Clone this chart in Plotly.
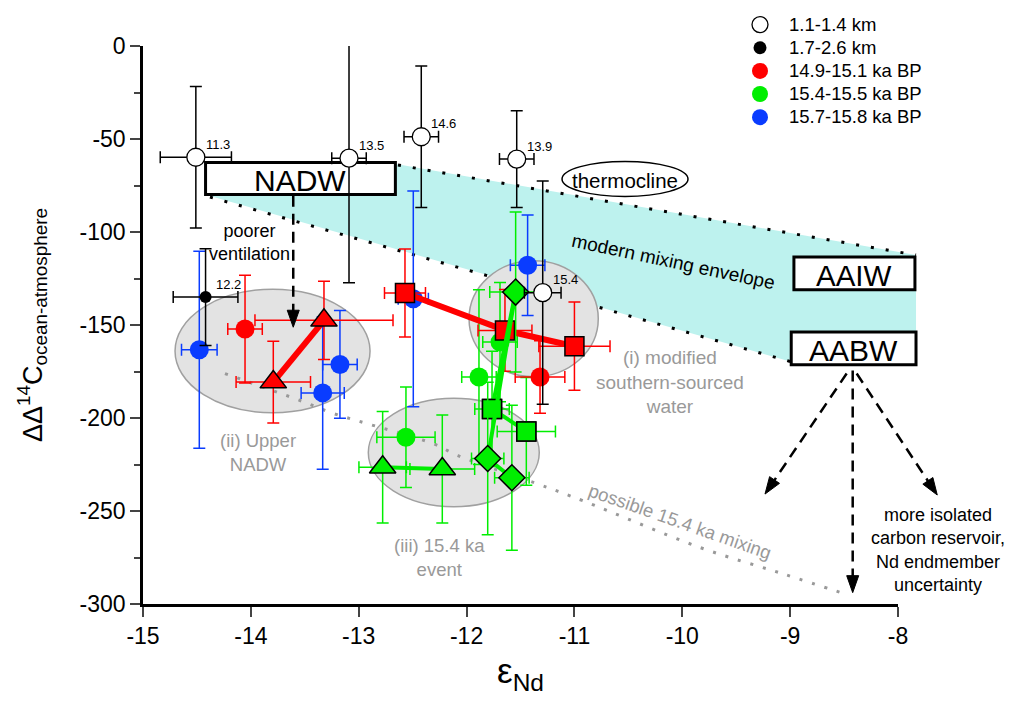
import math
import plotly.graph_objects as go

# ---------------- data ----------------
# open circles: 1.1-1.4 km (labels = ages)
open_x = [-14.51, -13.09, -12.42, -11.535, -11.294]
open_y = [-59.8, -60.3, -48.8, -60.8, -132.6]
open_xerr = [0.33, 0.16, 0.16, 0.16, 0.17]
open_yerr = [38, 67, 38, 26, 60]
open_labels = ["11.3", "13.5", "14.6", "13.9", "15.4"]

# filled black: 1.7-2.6 km
deep_x = [-14.42]
deep_y = [-135]
deep_xerr = [0.30]
deep_yerr = [26]
deep_labels = ["12.2"]

# 14.9-15.1 ka BP (red)
red_circ_x = [-14.054, -11.319]
red_circ_y = [-152.2, -178.0]
red_circ_xerr = [0.16, 0.23]
red_circ_yerr = [29, 19.5]
red_sq_x = [-12.571, -11.644, -11.0]
red_sq_y = [-132.8, -152.9, -161.4]
red_sq_xerr = [0.19, 0.25, 0.33]
red_sq_yerr = [23.7, 22, 23.7]
red_tri_x = [-13.792, -13.322]
red_tri_y = [-180.7, -147.5]
red_tri_xerr = [0.345, 0.64]
red_tri_yerr = [22, 21]

# 15.4-15.5 ka BP (green)
grn_circ_x = [-12.562, -11.885, -11.69]
grn_circ_y = [-210.4, -178.0, -159.2]
grn_circ_xerr = [0.27, 0.16, 0.16]
grn_circ_yerr = [27, 47, 32]
grn_sq_x = [-11.764, -11.446]
grn_sq_y = [-195.1, -207.2]
grn_sq_xerr = [0.16, 0.27]
grn_sq_yerr = [31, 29]
grn_tri_x = [-12.778, -12.225]
grn_tri_y = [-226.5, -227.4]
grn_tri_xerr = [0.22, 0.30]
grn_tri_yerr = [30, 29]
grn_dia_x = [-11.545, -11.804, -11.58]
grn_dia_y = [-132.3, -221.8, -232.1]
grn_dia_xerr = [0.24, 0.15, 0.16]
grn_dia_yerr = [43, 41, 39]
# path of the square core line (starts at the top diamond position)
grn_sqline_x = [-11.545, -11.764, -11.446]
grn_sqline_y = [-132.3, -195.1, -207.2]

# 15.7-15.8 ka BP (blue)
blu_x = [-14.478, -13.174, -13.334, -12.494, -11.434]
blu_y = [-163.3, -171.2, -186.5, -135.9, -117.9]
blu_xerr = [0.165, 0.16, 0.2, 0.14, 0.16]
blu_yerr = [53, 29, 41, 58, 27]

# possible 15.4 ka mixing line
mix_x = [-14.24, -13.544, -13.238, -12.923, -12.311, -12.08, -11.347, -10.921, -9.836, -9.066, -8.464]
mix_y = [-176.1, -190.6, -197.5, -203.0, -213.8, -220.2, -235.3, -244.5, -269.6, -283.8, -295.1]

# modern mixing envelope (NADW -> AAIW / AABW)
env_poly_x = [-14.416, -12.654, -7.833, -7.833, -8.983, -14.379]
env_poly_y = [-62.9, -63.4, -112.4, -169.9, -169.9, -80.6]
env_top_x = [-12.636, -7.833]
env_top_y = [-64.0, -112.4]
env_bot_x = [-14.379, -8.983]
env_bot_y = [-81.2, -169.9]

# axes
XR = [-15, -8]
YR = [-300, 0]
x_tickvals = [-15, -14, -13, -12, -11, -10, -9, -8]
x_ticktext = ["-15", "-14", "-13", "-12", "-11", "-10", "-9", "-8"]
y_tickvals = [0, -50, -100, -150, -200, -250, -300]
y_ticktext = ["0", "-50", "-100", "-150", "-200", "-250", "-300"]
y_minorvals = [-25, -75, -125, -175, -225, -275]

RED = "#ff0000"
GRN = "#00ee00"
BLU = "#0a3cff"
GRAY = "#999999"
FONT = "Arial, Liberation Sans, sans-serif"

# plot area in page pixels (page body has an 8px margin)
OFF = 8
L, T, W, H = 143, 46, 755, 558
FW, FH = 1023, 706


def xp(x):
    return (x - XR[0]) / (XR[1] - XR[0])


def yp(y):
    return (y - YR[0]) / (YR[1] - YR[0])


def topix(x, y):
    return L + xp(x) * W, T + (1 - yp(y)) * H


def frompix(px, py):
    return (px - L) / W, 1 - (py - T) / H


fig = go.Figure()


def err(arr, color, w=6, th=1.5):
    return dict(type="data", array=arr, symmetric=True, color=color, thickness=th, width=w)


# mixing curve
fig.add_trace(go.Scatter(x=mix_x, y=mix_y, mode="lines", line=dict(color=GRAY, width=3, dash="3px,10px", shape="spline"),
                         showlegend=False, hoverinfo="skip"))

# blue
fig.add_trace(go.Scatter(x=blu_x, y=blu_y, mode="markers", showlegend=False,
                         marker=dict(symbol="circle", size=19, color=BLU),
                         error_x=err(blu_xerr, BLU), error_y=err(blu_yerr, BLU)))

# green circles, squares, triangles
fig.add_trace(go.Scatter(x=grn_circ_x, y=grn_circ_y, mode="markers", showlegend=False,
                         marker=dict(symbol="circle", size=19, color=GRN),
                         error_x=err(grn_circ_xerr, GRN), error_y=err(grn_circ_yerr, GRN)))
fig.add_trace(go.Scatter(x=grn_sq_x, y=grn_sq_y, mode="markers", showlegend=False,
                         marker=dict(symbol="square", size=19, color=GRN, line=dict(color="black", width=1.5)),
                         error_x=err(grn_sq_xerr, GRN), error_y=err(grn_sq_yerr, GRN)))
fig.add_trace(go.Scatter(x=grn_tri_x, y=grn_tri_y, mode="lines+markers", showlegend=False,
                         line=dict(color=GRN, width=4),
                         marker=dict(symbol="triangle-up", size=23, color=GRN, line=dict(color="black", width=1.5)),
                         error_x=err(grn_tri_xerr, GRN), error_y=err(grn_tri_yerr, GRN)))

# red
fig.add_trace(go.Scatter(x=red_circ_x, y=red_circ_y, mode="markers", showlegend=False,
                         marker=dict(symbol="circle", size=19, color=RED),
                         error_x=err(red_circ_xerr, RED), error_y=err(red_circ_yerr, RED)))
fig.add_trace(go.Scatter(x=red_sq_x, y=red_sq_y, mode="lines+markers", showlegend=False,
                         line=dict(color=RED, width=6),
                         marker=dict(symbol="square", size=19, color=RED, line=dict(color="black", width=1.5)),
                         error_x=err(red_sq_xerr, RED), error_y=err(red_sq_yerr, RED)))
fig.add_trace(go.Scatter(x=red_tri_x, y=red_tri_y, mode="lines+markers", showlegend=False,
                         line=dict(color=RED, width=6),
                         marker=dict(symbol="triangle-up", size=23, color=RED, line=dict(color="black", width=1.5)),
                         error_x=err(red_tri_xerr, RED), error_y=err(red_tri_yerr, RED)))

# green connecting lines + diamonds
fig.add_trace(go.Scatter(x=grn_sqline_x, y=grn_sqline_y, mode="lines", showlegend=False,
                         line=dict(color=GRN, width=4), hoverinfo="skip"))
fig.add_trace(go.Scatter(x=grn_sq_x, y=grn_sq_y, mode="markers", showlegend=False,
                         marker=dict(symbol="square", size=19, color=GRN, line=dict(color="black", width=1.5))))
fig.add_trace(go.Scatter(x=grn_dia_x, y=grn_dia_y, mode="lines+markers", showlegend=False,
                         line=dict(color=GRN, width=4),
                         marker=dict(symbol="diamond", size=20, color=GRN, line=dict(color="black", width=1.5)),
                         error_x=err(grn_dia_xerr, GRN), error_y=err(grn_dia_yerr, GRN)))

# black deep and open circles
fig.add_trace(go.Scatter(x=deep_x, y=deep_y, mode="markers", showlegend=False,
                         marker=dict(symbol="circle", size=12, color="black"),
                         error_x=err(deep_xerr, "black", 6), error_y=err(deep_yerr, "black", 6)))
fig.add_trace(go.Scatter(x=open_x, y=open_y, mode="markers", showlegend=False,
                         marker=dict(symbol="circle", size=18, color="white", line=dict(color="black", width=1.3)),
                         error_x=err(open_xerr, "black", 6), error_y=err(open_yerr, "black", 6)))

# legend entries
legend_names = ["1.1-1.4 km", "1.7-2.6 km", "14.9-15.1 ka BP", "15.4-15.5 ka BP", "15.7-15.8 ka BP"]
legend_markers = [
    dict(symbol="circle", size=19, color="white", line=dict(color="black", width=1.3)),
    dict(symbol="circle", size=13, color="black"),
    dict(symbol="circle", size=19, color=RED),
    dict(symbol="circle", size=19, color=GRN),
    dict(symbol="circle", size=19, color=BLU),
]
for name, mk in zip(legend_names, legend_markers):
    fig.add_trace(go.Scatter(x=[None], y=[None], mode="markers",
                             name=f'<span style="font-size:18.5px">{name}</span>', marker=mk, showlegend=True))

# ---------------- shapes ----------------
shapes = []
poly = [frompix(*topix(x, y)) for x, y in zip(env_poly_x, env_poly_y)]
path = "M " + " L ".join(f"{a:.5f},{b:.5f}" for a, b in poly) + " Z"
shapes.append(dict(type="path", path=path, xref="paper", yref="paper", fillcolor="#bdf2ee",
                   line=dict(width=0), layer="below"))
for lx, ly in [(env_top_x, env_top_y), (env_bot_x, env_bot_y)]:
    shapes.append(dict(type="line", xref="paper", yref="paper", x0=xp(lx[0]), y0=yp(ly[0]), x1=xp(lx[1]), y1=yp(ly[1]),
                       line=dict(color="black", width=3, dash="3px,12px"), layer="below"))

ellipses = [(-14.703, -12.895, -130.8, -197.2), (-11.977, -10.779, -115.4, -177.8), (-12.911, -11.326, -189.4, -247.7)]
for x0, x1, y0, y1 in ellipses:
    shapes.append(dict(type="circle", xref="paper", yref="paper", x0=xp(x0), x1=xp(x1), y0=yp(y0), y1=yp(y1),
                       fillcolor="#e3e3e3", line=dict(color="#a0a0a0", width=1.5), layer="below"))
# thermocline ellipse
shapes.append(dict(type="circle", xref="paper", yref="paper", x0=xp(-11.115), x1=xp(-9.947), y0=yp(-62.1), y1=yp(-80.9),
                   fillcolor="white", line=dict(color="black", width=1.5), layer="below"))

boxes = [("NADW", -14.42, -12.66, -62.6, -79.9), ("AAIW", -8.965, -7.843, -113.5, -131.0),
         ("AABW", -8.99, -7.833, -153.8, -171.4)]
for name, x0, x1, y0, y1 in boxes:
    shapes.append(dict(type="rect", xref="paper", yref="paper", x0=xp(x0), x1=xp(x1), y0=yp(y0), y1=yp(y1),
                       fillcolor="white", line=dict(color="black", width=3), layer="below"))

# dashed arrows (start, tip) in data coords
arrows = [((-13.607, -80.5), (-13.607, -151.2)),
          ((-8.476, -176.1), (-9.233, -240.9)),
          ((-8.42, -174.5), (-8.42, -293.9)),
          ((-8.383, -176.1), (-7.636, -241.4))]
for (sx, sy), (tx, ty) in arrows:
    spx, spy = topix(sx, sy)
    tpx, tpy = topix(tx, ty)
    dx, dy = tpx - spx, tpy - spy
    ln = math.hypot(dx, dy)
    ux, uy = dx / ln, dy / ln
    hl, hw = 17, 12
    bx, by = tpx - ux * hl, tpy - uy * hl
    nx, ny = -uy, ux
    a = frompix(spx, spy)
    b = frompix(bx + ux * 2, by + uy * 2)
    shapes.append(dict(type="line", xref="paper", yref="paper", x0=a[0], y0=a[1], x1=b[0], y1=b[1],
                       line=dict(color="black", width=2.5, dash="11px,7px")))
    p1 = frompix(tpx, tpy)
    p2 = frompix(bx + nx * hw / 2, by + ny * hw / 2)
    p3 = frompix(bx - nx * hw / 2, by - ny * hw / 2)
    shapes.append(dict(type="path", xref="paper", yref="paper",
                       path=f"M {p1[0]:.5f},{p1[1]:.5f} L {p2[0]:.5f},{p2[1]:.5f} L {p3[0]:.5f},{p3[1]:.5f} Z",
                       fillcolor="black", line=dict(color="black", width=1)))

# ---------------- annotations ----------------
ann = []


def add_text(text, x, y, size, color="black", angle=0, xanchor="center"):
    ann.append(dict(text=text, x=xp(x), y=yp(y), xref="paper", yref="paper", showarrow=False,
                    font=dict(family=FONT, size=size, color=color), textangle=angle, xanchor=xanchor,
                    yanchor="middle"))


box_font = [30, 29.5, 30]
for (name, x0, x1, y0, y1), fs in zip(boxes, box_font):
    add_text(name, (x0 + x1) / 2, (y0 + y1) / 2 - 1, fs)
add_text("thermocline", -10.53, -72.5, 20.5)
add_text("poorer<br>ventilation", -14.008, -105.4, 18)
add_text("modern mixing envelope", -10.086, -115.6, 19, angle=12)
add_text("(ii) Upper<br>NADW", -13.934, -218.3, 18.5, GRAY)
add_text("(i) modified<br>southern-sourced<br>water", -10.114, -180.5, 19, GRAY)
add_text("(iii) 15.4 ka<br>event", -12.253, -275.2, 18.5, GRAY)
add_text("possible 15.4 ka mixing", -10.021, -255.4, 18.5, GRAY, angle=19.4)
add_text("more isolated<br>carbon reservoir,<br>Nd endmember<br>uncertainty", -7.626, -271, 18)

for xs, ys, labs in [(open_x, open_y, open_labels), (deep_x, deep_y, deep_labels)]:
    for x, y, lab in zip(xs, ys, labs):
        ann.append(dict(text=lab, x=x, y=y, xref="x", yref="y", showarrow=False, xanchor="left", yanchor="middle",
                        xshift=8, yshift=13, font=dict(family=FONT, size=13, color="black")))

fig.update_layout(
    width=FW, height=FH,
    margin=dict(l=L - OFF, r=FW - (L - OFF) - W, t=T - OFF, b=FH - (T - OFF) - H, autoexpand=False),
    paper_bgcolor="white", plot_bgcolor="rgba(0,0,0,0)",
    font=dict(family=FONT, color="black"),
    shapes=shapes, annotations=ann,
    legend=dict(xref="container", yref="container", x=(731 - OFF) / FW, y=1 + 17 / FH,
                xanchor="left", yanchor="top",
                font=dict(family=FONT, size=15.5), itemwidth=48, bgcolor="rgba(0,0,0,0)",
                tracegroupgap=0),
    xaxis=dict(range=XR, tickmode="array", tickvals=x_tickvals, ticktext=x_ticktext,
               ticks="outside", ticklen=10, tickwidth=2, automargin=False,
               showline=True, linewidth=2.5, linecolor="black", showgrid=False, zeroline=False,
               tickfont=dict(size=23, family=FONT),
               title=dict(text="ε<sub>Nd</sub>", font=dict(size=35, family=FONT), standoff=11)),
    yaxis=dict(range=YR, tickmode="array", tickvals=y_tickvals, ticktext=y_ticktext,
               ticks="outside", ticklen=10, tickwidth=2, automargin=False,
               minor=dict(tickmode="array", tickvals=y_minorvals, ticks="outside", ticklen=6, tickwidth=2,
                          showgrid=False),
               showline=True, linewidth=2.5, linecolor="black", showgrid=False, zeroline=False,
               tickfont=dict(size=23, family=FONT),
               title=dict(text="ΔΔ<sup>14</sup>C<sub>ocean-atmosphere</sub>", font=dict(size=27, family=FONT),
                          standoff=30)),
)

fig.write_html("out.html")
